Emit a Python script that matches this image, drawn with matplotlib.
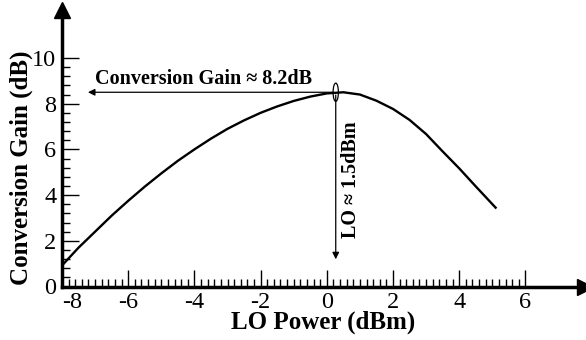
import matplotlib
matplotlib.use('Agg')
import matplotlib.pyplot as plt
import matplotlib.transforms as mtransforms
from matplotlib.patches import Ellipse

# LO power sweep (dBm) and measured conversion gain (dB)
lo_power = [-8, -7.5, -7, -6.5, -6, -5.5, -5, -4.5, -4, -3.5, -3, -2.5, -2, -1.5, -1, -0.5,
            0, 0.5, 1, 1.5, 2, 2.5, 3, 3.5, 4, 4.5, 5.1]
conv_gain = [0.92, 1.7, 2.4, 3.1, 3.75, 4.37, 4.95, 5.5, 6.0, 6.47, 6.9, 7.27, 7.6, 7.88, 8.12, 8.31,
             8.45, 8.5, 8.4, 8.13, 7.77, 7.29, 6.67, 5.91, 5.17, 4.38, 3.45]

x_ticks = [-8, -6, -4, -2, 0, 2, 4, 6]
y_ticks = [0, 2, 4, 6, 8, 10]

peak_x = 0.27
peak_y = 8.5

plt.rcParams['font.family'] = ['Liberation Serif', 'DejaVu Serif']
plt.rcParams['axes.unicode_minus'] = False

fig = plt.figure(figsize=(5.86, 3.40), dpi=100)
ax = fig.add_axes([62 / 586, (340 - 286.5) / 340, (585 - 62) / 586, (286.5 - 10) / 340])

ax.plot(lo_power, conv_gain, color='black', lw=1.7)

ax.set_xlim(-8, 7.8)
ax.set_ylim(0, 12.1)

# axes: only left/bottom, thick, with arrow heads
for s in ['top', 'right']:
    ax.spines[s].set_visible(False)
for s in ['left', 'bottom']:
    ax.spines[s].set_linewidth(2.5)
ax.plot(1, 0, '>', color='black', markersize=11, transform=ax.transAxes, clip_on=False)
ax.plot(0, 1, '^', color='black', markersize=11, transform=ax.transAxes, clip_on=False)

ax.set_xticks(x_ticks)
ax.set_yticks(y_ticks)
ax.set_xticks([v / 5 for v in range(-40, 31)], minor=True)
ax.set_yticks([v * 0.4 for v in range(0, 26)], minor=True)
ax.tick_params(which='major', direction='in', length=12, width=1, labelsize=17.5, pad=4)
ax.tick_params(which='minor', direction='in', length=6, width=1)
ax.tick_params(axis='y', which='major', pad=4)

# nudge the -8 label off the y axis
offset = mtransforms.ScaledTranslation(10 / 100, 0, fig.dpi_scale_trans)
lab = ax.get_xticklabels()[0]
lab.set_transform(lab.get_transform() + offset)

ax.set_xlabel('LO Power (dBm)', fontsize=18, fontweight='bold', labelpad=-2)
ax.set_ylabel('Conversion Gain (dB)', fontsize=18, fontweight='bold')
ax.yaxis.set_label_coords(-0.056, 0.43)

# annotations
ax.annotate('', xy=(-7.3, peak_y), xytext=(peak_x, peak_y),
            arrowprops=dict(arrowstyle='-|>', color='black', lw=0.9, mutation_scale=10))
ax.annotate('', xy=(peak_x, 1.07), xytext=(peak_x, peak_y),
            arrowprops=dict(arrowstyle='-|>', color='black', lw=0.9, mutation_scale=10))
ax.add_patch(Ellipse((peak_x, peak_y), 0.16, 0.8, fill=False, color='black', lw=0.9))

ax.text(-7.0, 8.65, 'Conversion Gain \u2248 8.2dB', fontsize=14.5, fontweight='bold',
        ha='left', va='bottom')
ax.text(0.74, 4.67, 'LO \u2248 1.5dBm', fontsize=14.5, fontweight='bold',
        rotation=90, ha='center', va='center')

plt.savefig('out.png', dpi=100)
